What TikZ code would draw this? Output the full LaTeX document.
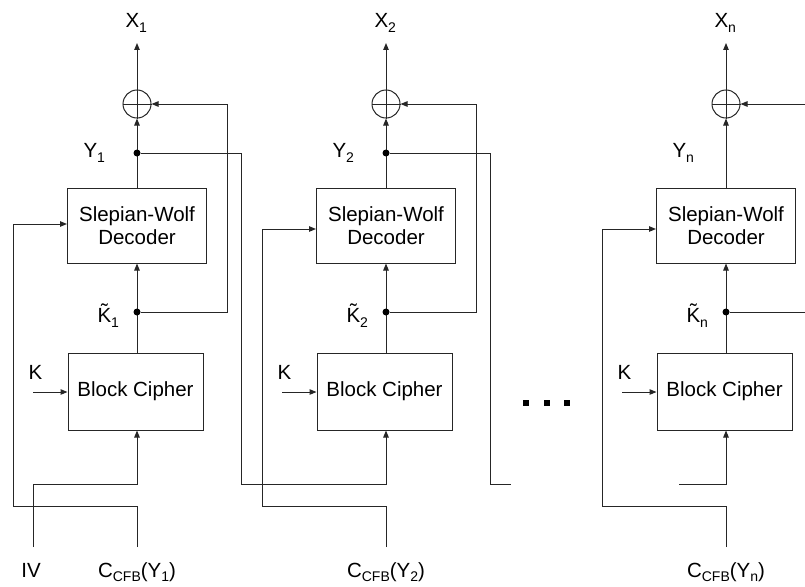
\documentclass[tikz,border=0pt]{standalone}
\usepackage{fontspec}
\setmainfont{Liberation Sans}
\usetikzlibrary{arrows.meta}
\newcommand\sbs[1]{\raisebox{-5pt}{\fontsize{14}{14}\selectfont #1}}
\newcommand\sbb[1]{\raisebox{-4pt}{\fontsize{14}{14}\selectfont #1}}
\begin{document}
\begin{tikzpicture}[x=1pt,y=-1pt, line width=1pt, draw=black!85,
  every node/.style={font=\fontsize{20.5}{23}\selectfont, inner sep=0pt},
  blk/.style={draw=black!85, align=center, line width=1pt},
  arr/.style={-{Triangle[length=7pt,width=5.5pt]}},
  jdot/.style={circle, fill=black, minimum size=7pt, inner sep=0pt},
  xorc/.style={circle, draw=black!85, minimum size=28pt, inner sep=0pt},
  lbl/.style={anchor=base west}]
\useasboundingbox (0,0) rectangle (805,586);

\foreach \i/\c/\yin in {1/137/224, 2/386/229, n/726/229}{
  \node[blk, minimum width=139pt, minimum height=75pt] (sw\i) at (\c,225.5) {Slepian-Wolf\\Decoder};
  \node[blk, minimum width=135pt, minimum height=77pt] (bc\i) at (\c-1.5,391.5) {Block Cipher};
  \node[xorc] (x\i) at (\c,104) {};
  \draw (x\i.west) -- (x\i.east) (x\i.north) -- (x\i.south);
  \coordinate (top\i) at (\c,43);
  \draw[arr] (x\i.north) -- (top\i);
  \node[lbl] at (\c-12,28) {X\sbs{\i}};
  \draw[arr] (sw\i.north) -- (x\i.south);
  \draw[arr] (sw\i.south |- bc\i.north) -- (sw\i.south);
  \node[jdot] (kd\i) at (\c,312) {};
  \node[lbl] at (\c-54,157) {Y\sbs{\i}};
  \node[lbl] at (\c-40,322) {\~{K}\sbs{\i}};
  \node[lbl] at (\c-109,379) {K};
  \coordinate (kin\i) at (\c-104,392);
  \draw[arr] (kin\i) -- (kin\i -| bc\i.west);
  \coordinate (bcin\i) at (\c,484);
  \coordinate (c\i) at (\c,547);
  \node[anchor=base] at (\c,577) {C\sbb{CFB}(Y\sbb{\i})};
  \coordinate (lp\i) at (\c-124,\yin);
  \draw[arr] (c\i) -- (\c,506) -| (lp\i) -- (lp\i -| sw\i.west);
}

% column 1
\node[jdot] (yd1) at (137,153) {};
\coordinate (iv) at (33,547);
\node[anchor=base] at (31,577) {IV};
\draw[arr] (iv) |- (bcin1) -- (bcin1 |- bc1.south);
\coordinate (kf1) at (227,104);
\draw[arr] (kd1) -| (kf1) -- (x1.east);
\coordinate (yf1) at (241,484);
\draw[arr] (yd1) -| (yf1) -- (bcin2) -- (bcin2 |- bc2.south);

% column 2
\node[jdot] (yd2) at (386,153) {};
\coordinate (kf2) at (476,104);
\draw[arr] (kd2) -| (kf2) -- (x2.east);
\coordinate (yf2) at (490,484);
\coordinate (yend2) at (511,484);
\draw (yd2) -| (yf2) -- (yend2);

% column n
\coordinate (kfn) at (805,104);
\draw[arr] (kfn) -- (xn.east);
\coordinate (kendn) at (805,312);
\draw (kdn) -- (kendn);
\coordinate (ystartn) at (679,484);
\draw[arr] (ystartn) -- (bcinn) -- (bcinn |- bcn.south);

% ellipsis
\foreach \x in {526,547,567}{
  \fill (\x-3,400) rectangle (\x+3,406);
}
\end{tikzpicture}
\end{document}
